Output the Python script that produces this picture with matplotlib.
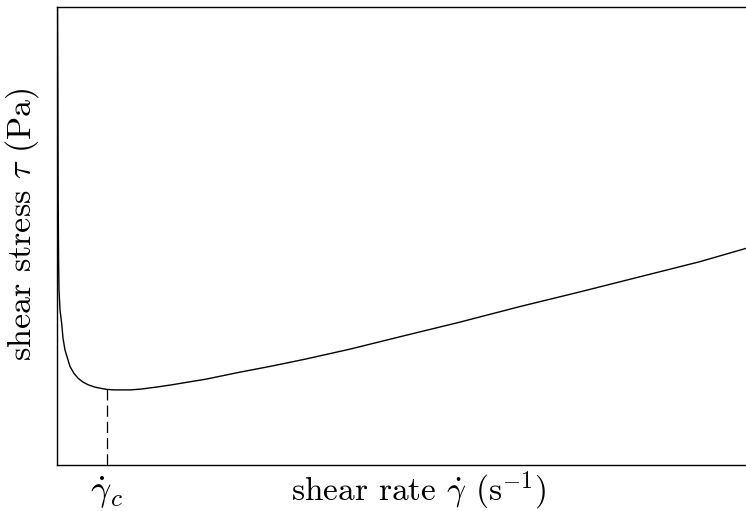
import matplotlib.pyplot as plt
import numpy as np

plt.rcParams['font.family'] = 'serif'
plt.rcParams['font.serif'] = ['cmr10']
plt.rcParams['mathtext.fontset'] = 'cm'
plt.rcParams['axes.formatter.use_mathtext'] = True

# flow curve, arbitrary units
rate = [0.007, 0.012, 0.017, 0.023, 0.029, 0.044, 0.068, 0.087, 0.116, 0.189,
        0.247, 0.309, 0.377, 0.454, 0.552, 0.649, 0.726, 0.827, 0.939, 1.074,
        1.229, 1.437, 1.665, 1.901, 2.148, 2.631, 3.116, 3.599, 4.253, 4.978,
        5.849, 6.720, 7.591, 8.461, 9.332, 10.0]
stress = [10.0, 7.97, 5.79, 4.48, 3.82, 3.38, 3.09, 2.77, 2.51, 2.15,
          2.00, 1.89, 1.81, 1.75, 1.70, 1.67, 1.65, 1.64, 1.64, 1.64,
          1.66, 1.70, 1.75, 1.81, 1.87, 2.02, 2.16, 2.31, 2.53, 2.80,
          3.12, 3.46, 3.78, 4.11, 4.44, 4.73]
rate_c = 0.726
stress_c = 1.65

fig = plt.figure(figsize=(7.46, 5.11), dpi=100)
ax = fig.add_axes([57/746, 1-465/511, 1-57/746, (465-7)/511])

ax.plot(rate, stress, color='black', linewidth=1.0)
ax.plot([rate_c, rate_c], [0, stress_c], color='black', linewidth=0.9,
        dashes=(9, 4))

ax.set_xlim(0, 10)
ax.set_ylim(0, 10)
ax.spines['right'].set_visible(False)
for s in ['left', 'top', 'bottom']:
    ax.spines[s].set_linewidth(1.0)

ax.set_yticks([])
ax.set_xticks([rate_c])
ax.set_xticklabels([r'$\dot{\gamma}_c$'], fontsize=26)
ax.tick_params(axis='x', length=0, pad=7)

ax.set_xlabel(r'shear rate $\dot{\gamma}$ (s$^{-1}$)', fontsize=24)
ax.xaxis.set_label_coords((419-57)/689, (465-491)/458)
ax.xaxis.label.set_va('center')
ax.set_ylabel(r'shear stress $\tau$ (Pa)', fontsize=24.5)
ax.yaxis.set_label_coords((22-57)/689, (465-224)/458)
ax.yaxis.label.set_va('center')

fig.savefig('out.png', dpi=100)
